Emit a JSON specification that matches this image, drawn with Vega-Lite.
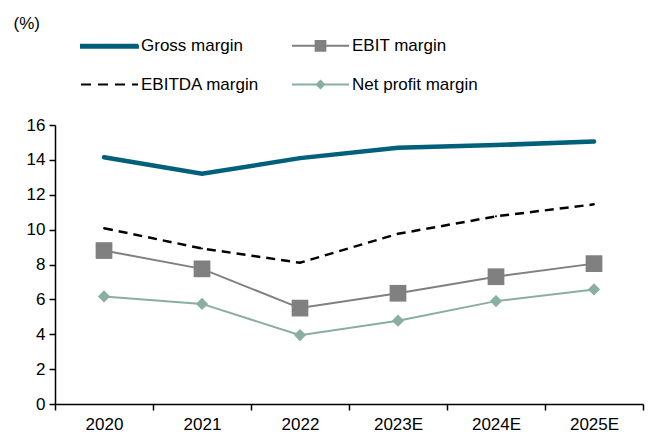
{
  "$schema": "https://vega.github.io/schema/vega-lite/v6.json",
  "width": 588,
  "height": 279,
  "autosize": {"type": "none"},
  "padding": {"left": 55, "top": 125, "right": 11, "bottom": 32},
  "background": "white",
  "config": {
    "view": {"stroke": null},
    "font": "Liberation Sans",
    "axis": {"labelFont": "Liberation Sans", "labelFontSize": 17, "labelColor": "#000", "domainColor": "#000", "tickColor": "#000", "domainWidth": 1.5, "tickWidth": 1.5, "tickSize": 6, "grid": false, "titleFont": "Liberation Sans"},
    "legend": {"labelFont": "Liberation Sans", "labelFontSize": 17, "labelColor": "#000"}
  },
  "data": {
    "values": [
      {"year": "2020", "series": "Gross margin", "v": 14.15},
      {"year": "2021", "series": "Gross margin", "v": 13.2},
      {"year": "2022", "series": "Gross margin", "v": 14.1},
      {"year": "2023E", "series": "Gross margin", "v": 14.7},
      {"year": "2024E", "series": "Gross margin", "v": 14.85},
      {"year": "2025E", "series": "Gross margin", "v": 15.05},
      {"year": "2020", "series": "EBIT margin", "v": 8.8},
      {"year": "2021", "series": "EBIT margin", "v": 7.75},
      {"year": "2022", "series": "EBIT margin", "v": 5.5},
      {"year": "2023E", "series": "EBIT margin", "v": 6.35},
      {"year": "2024E", "series": "EBIT margin", "v": 7.3},
      {"year": "2025E", "series": "EBIT margin", "v": 8.05},
      {"year": "2020", "series": "EBITDA margin", "v": 10.08},
      {"year": "2021", "series": "EBITDA margin", "v": 8.92},
      {"year": "2022", "series": "EBITDA margin", "v": 8.1},
      {"year": "2023E", "series": "EBITDA margin", "v": 9.76},
      {"year": "2024E", "series": "EBITDA margin", "v": 10.76},
      {"year": "2025E", "series": "EBITDA margin", "v": 11.45},
      {"year": "2020", "series": "Net profit margin", "v": 6.17},
      {"year": "2021", "series": "Net profit margin", "v": 5.74},
      {"year": "2022", "series": "Net profit margin", "v": 3.95},
      {"year": "2023E", "series": "Net profit margin", "v": 4.78},
      {"year": "2024E", "series": "Net profit margin", "v": 5.9},
      {"year": "2025E", "series": "Net profit margin", "v": 6.57}
    ]
  },
  "encoding": {
    "x": {
      "field": "year", "type": "nominal", "sort": null,
      "scale": {"type": "band", "paddingInner": 0, "paddingOuter": 0},
      "axis": {"title": null, "labelAngle": 0, "tickBand": "extent", "labelPadding": 6}
    },
    "y": {
      "field": "v", "type": "quantitative",
      "scale": {"domain": [0, 16], "nice": false, "zero": true},
      "axis": {"values": [0, 2, 4, 6, 8, 10, 12, 14, 16], "title": "(%)", "titleAngle": 0, "titleAlign": "left", "titleBaseline": "middle", "titleX": -42, "titleY": -102, "titleFontSize": 17, "titleFontWeight": "normal", "titleColor": "#000", "labelPadding": 4}
    }
  },
  "layer": [
    {
      "transform": [{"filter": "datum.series === 'Gross margin'"}],
      "mark": {"type": "line", "color": "#005f7a", "strokeWidth": 4.5, "strokeCap": "round"}
    },
    {
      "transform": [{"filter": "datum.series === 'EBITDA margin'"}],
      "mark": {"type": "line", "color": "#000000", "strokeWidth": 2.5, "strokeDash": [9, 6]}
    },
    {
      "transform": [{"filter": "datum.series === 'EBIT margin'"}],
      "mark": {"type": "line", "color": "#808080", "strokeWidth": 2}
    },
    {
      "transform": [{"filter": "datum.series === 'Net profit margin'"}],
      "mark": {"type": "line", "color": "#8aae9f", "strokeWidth": 2}
    },
    {
      "transform": [{"filter": "datum.series === 'EBIT margin'"}],
      "mark": {"type": "point", "shape": "square", "filled": true, "color": "#808080", "size": 280, "opacity": 1}
    },
    {
      "transform": [{"filter": "datum.series === 'Net profit margin'"}],
      "mark": {"type": "point", "shape": "diamond", "filled": true, "color": "#8aae9f", "size": 150, "opacity": 1}
    },
    {
      "mark": {"type": "point", "filled": true, "size": 0, "opacity": 1, "strokeCap": "round", "strokeJoin": "round"},
      "encoding": {
        "shape": {
          "field": "series", "type": "nominal",
          "scale": {"domain": ["Gross margin", "EBITDA margin", "EBIT margin", "Net profit margin"], "range": ["M-1,-0.05L1,-0.05L1,0.05L-1,0.05Z", "M-1,0L1,0", "M-1,0L1,0M-0.17,-0.17L0.17,-0.17L0.17,0.17L-0.17,0.17Z", "M-1,0L1,0M0,-0.13L0.13,0L0,0.13L-0.13,0Z"]},
          "legend": {"orient": "none", "legendX": 25, "legendY": -109, "columns": 2, "title": null, "symbolSize": 3249, "symbolStrokeWidth": 2, "labelOffset": 2, "columnPadding": 28, "rowPadding": -4}
        },
        "stroke": {
          "field": "series", "type": "nominal",
          "scale": {"domain": ["Gross margin", "EBITDA margin", "EBIT margin", "Net profit margin"], "range": ["#005f7a", "#000000", "#808080", "#8aae9f"]},
          "legend": {"orient": "none", "legendX": 25, "legendY": -109, "columns": 2, "title": null}
        },
        "fill": {
          "field": "series", "type": "nominal",
          "scale": {"domain": ["Gross margin", "EBITDA margin", "EBIT margin", "Net profit margin"], "range": ["#005f7a", "#000000", "#808080", "#8aae9f"]},
          "legend": {"orient": "none", "legendX": 25, "legendY": -109, "columns": 2, "title": null}
        },
        "strokeDash": {
          "field": "series", "type": "nominal",
          "scale": {"domain": ["Gross margin", "EBITDA margin", "EBIT margin", "Net profit margin"], "range": [[1, 0], [10, 7], [1, 0], [1, 0]]},
          "legend": {"orient": "none", "legendX": 25, "legendY": -109, "columns": 2, "title": null}
        }
      }
    }
  ]
}
